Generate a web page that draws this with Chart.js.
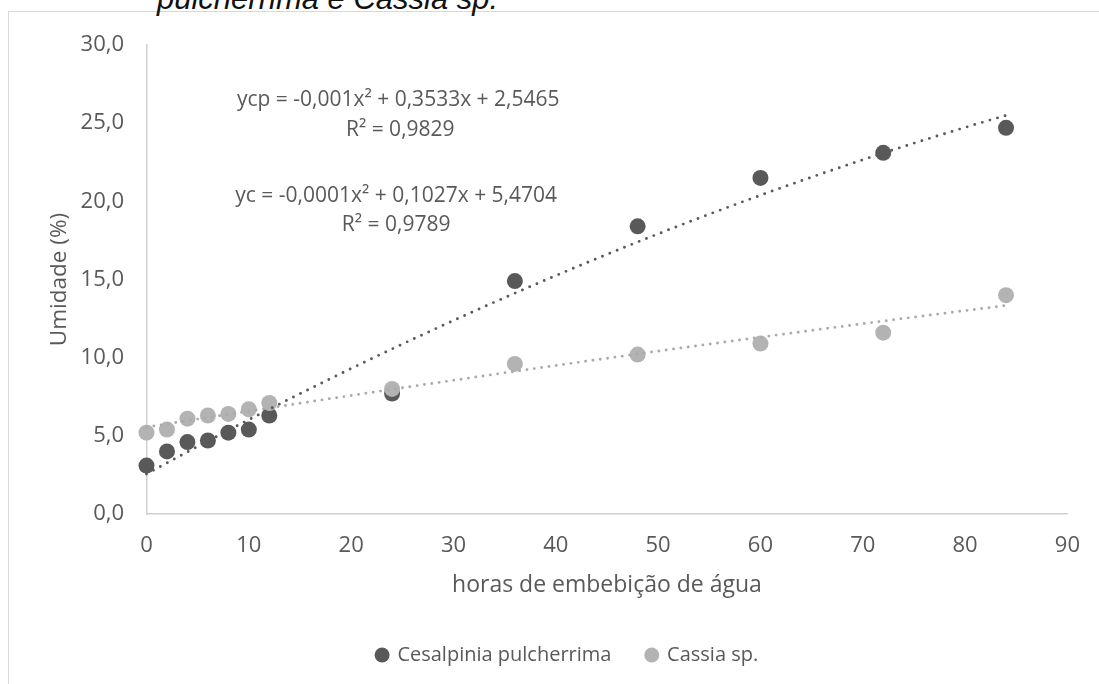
<!DOCTYPE html>
<html>
<head>
<meta charset="utf-8">
<script src="https://cdn.jsdelivr.net/npm/chart.js@4.4.0/dist/chart.umd.min.js"></script>
<style>
html,body{margin:0;padding:0;background:#fff;width:1099px;height:684px;overflow:hidden;}
#frame{position:absolute;left:8px;top:11px;width:1118px;height:760px;border:1px solid #d9d9d9;box-sizing:border-box;}
#caption{position:absolute;left:157px;top:-17px;font-family:"Liberation Sans",Arial,sans-serif;font-style:italic;font-size:31px;line-height:31px;color:#111;white-space:nowrap;}
#wrap{position:absolute;left:0;top:0;width:1099px;height:684px;}
canvas{display:block;}
</style>
</head>
<body>
<div id="frame"></div>
<div id="caption">pulcherrima e Cassia sp.</div>
<div id="wrap"><canvas id="c" width="1099" height="684"></canvas></div>
<script>
// ---- data ----
const hours = [0, 2, 4, 6, 8, 10, 12, 24, 36, 48, 60, 72, 84];
const cesalpinia = [3.1, 4.0, 4.6, 4.7, 5.2, 5.4, 6.3, 7.7, 14.9, 18.4, 21.5, 23.1, 24.7];
const cassia = [5.2, 5.4, 6.1, 6.3, 6.4, 6.7, 7.1, 8.0, 9.6, 10.2, 10.9, 11.6, 14.0];
const seriesNames = ['Cesalpinia pulcherrima', 'Cassia sp.'];
const yTicks = [0, 5, 10, 15, 20, 25, 30];
const xTicks = [0, 10, 20, 30, 40, 50, 60, 70, 80, 90];
const equationTexts = [
  'ycp = -0,001x² + 0,3533x + 2,5465',
  'R² = 0,9829',
  'yc = -0,0001x² + 0,1027x + 5,4704',
  'R² = 0,9789'
];
const xTitle = 'horas de embebição de água';
const yTitle = 'Umidade (%)';

// least-squares quadratic trendline (as the spreadsheet does)
function quadFit(xs, ys) {
  let s0=0,s1=0,s2=0,s3=0,s4=0,t0=0,t1=0,t2=0;
  for (let i = 0; i < xs.length; i++) {
    const x = xs[i], y = ys[i];
    s0 += 1; s1 += x; s2 += x*x; s3 += x*x*x; s4 += x*x*x*x;
    t0 += y; t1 += x*y; t2 += x*x*y;
  }
  const det3 = (m) => m[0][0]*(m[1][1]*m[2][2]-m[1][2]*m[2][1]) - m[0][1]*(m[1][0]*m[2][2]-m[1][2]*m[2][0]) + m[0][2]*(m[1][0]*m[2][1]-m[1][1]*m[2][0]);
  const M = [[s4,s3,s2],[s3,s2,s1],[s2,s1,s0]];
  const T = [t2,t1,t0];
  const D = det3(M);
  const col = (k) => M.map((row, r) => row.map((v, c) => c === k ? T[r] : v));
  return [det3(col(0))/D, det3(col(1))/D, det3(col(2))/D];
}
function trendPoints(xs, ys) {
  const [a, b, c] = quadFit(xs, ys);
  const pts = [];
  const x0 = xs[0], x1 = xs[xs.length - 1];
  for (let x = x0; x <= x1; x += 1) pts.push({x: x, y: a*x*x + b*x + c});
  return pts;
}
const toXY = (xs, ys) => xs.map((x, i) => ({x: x, y: ys[i]}));

const DARK = '#595959', LIGHT = '#b3b3b3', LIGHT_TREND = '#aaaaaa';
const TXT = '#595959';
const FONT = '"Open Sans", "DejaVu Sans", sans-serif';

const equationPlugin = {
  id: 'equations',
  afterDatasetsDraw(chart, args, opts) {
    const {ctx, scales: {x, y}} = chart;
    ctx.save();
    ctx.fillStyle = TXT;
    ctx.font = '21px ' + FONT;
    ctx.textAlign = 'center';
    ctx.textBaseline = 'middle';
    opts.items.forEach(it => {
      ctx.fillText(it.text, x.getPixelForValue(it.at[0]), y.getPixelForValue(it.at[1]));
    });
    ctx.restore();
  }
};
const legendShift = {
  id: 'legendShift',
  afterLayout(chart, args, opts) {
    if (chart.legend) { chart.legend.left += opts.dx; chart.legend.right += opts.dx; }
  }
};

new Chart(document.getElementById('c'), {
  type: 'scatter',
  data: {
    datasets: [
      { label: seriesNames[0], data: toXY(hours, cesalpinia), backgroundColor: DARK, borderColor: DARK,
        pointRadius: 8, pointHoverRadius: 8, borderWidth: 0, pointStyle: 'circle', order: 2, clip: false },
      { label: seriesNames[1], data: toXY(hours, cassia), backgroundColor: LIGHT, borderColor: LIGHT,
        pointRadius: 8, pointHoverRadius: 8, borderWidth: 0, pointStyle: 'circle', order: 1, clip: false },
      { label: 'trend0', isTrend: true, data: trendPoints(hours, cesalpinia), showLine: true, pointRadius: 0,
        borderColor: DARK, borderWidth: 2.9, borderDash: [0, 7.9], borderCapStyle: 'round', order: 0, clip: false, tension: 0 },
      { label: 'trend1', isTrend: true, data: trendPoints(hours, cassia), showLine: true, pointRadius: 0,
        borderColor: LIGHT_TREND, borderWidth: 2.9, borderDash: [0, 7.4], borderCapStyle: 'round', order: 0, clip: false, tension: 0 }
    ]
  },
  options: {
    responsive: false,
    animation: false,
    devicePixelRatio: 1,
    layout: { padding: { left: 0, right: 26, top: 45, bottom: 9 } },
    scales: {
      x: {
        type: 'linear', min: 0, max: 90,
        afterBuildTicks: (s) => { s.ticks = xTicks.map(v => ({value: v})); },
        ticks: { color: TXT, font: { family: FONT, size: 22 }, padding: 19, callback: (v) => String(v) },
        grid: { display: false, drawTicks: false },
        border: { display: true, color: '#d0d0d0', width: 1.5 },
        title: { display: true, text: xTitle, color: TXT, font: { family: FONT, size: 23 }, padding: { top: 0, bottom: 10.5 } },
        afterFit: (s) => { s.height = 96; }
      },
      y: {
        type: 'linear', min: 0, max: 30,
        afterBuildTicks: (s) => { s.ticks = yTicks.map(v => ({value: v})); },
        ticks: { color: TXT, font: { family: FONT, size: 22 }, padding: 22.5, callback: (v) => v.toFixed(1).replace('.', ',') },
        grid: { display: false, drawTicks: false },
        border: { display: true, color: '#d0d0d0', width: 1.5 },
        title: { display: true, text: yTitle, color: TXT, font: { family: FONT, size: 22.5 }, padding: { top: 46.5, bottom: 0 } },
        afterFit: (s) => { s.width = 146.5; }
      }
    },
    plugins: {
      legend: {
        position: 'bottom',
        labels: {
          color: TXT, font: { family: FONT, size: 20 }, usePointStyle: true, boxWidth: 10.6, boxHeight: 10.6, padding: 35,
          filter: (item, data) => !data.datasets[item.datasetIndex].isTrend,
          sort: (a, b) => a.datasetIndex - b.datasetIndex
        }
      },
      legendShift: { dx: 31 },
      tooltip: { enabled: false },
      equations: {
        items: [
          { text: equationTexts[0], at: [24.6, 26.5] },
          { text: equationTexts[1], at: [24.8, 24.57] },
          { text: equationTexts[2], at: [24.4, 20.35] },
          { text: equationTexts[3], at: [24.4, 18.49] }
        ]
      }
    }
  },
  plugins: [equationPlugin, legendShift]
});
</script>
</body>
</html>
